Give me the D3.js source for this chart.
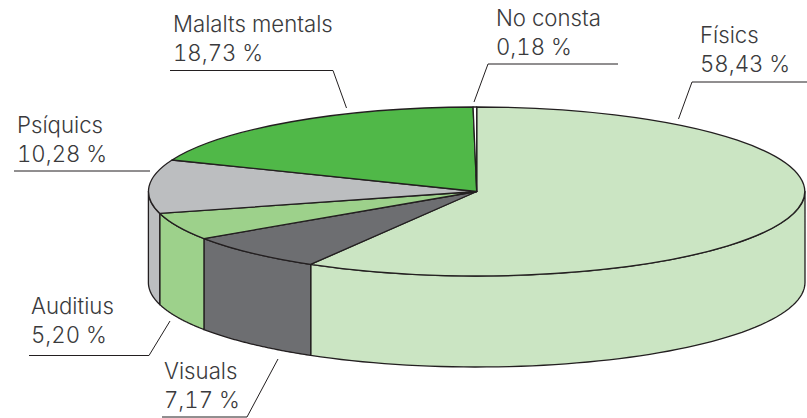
<!DOCTYPE html>
<html><head><meta charset="utf-8">
<script src="https://cdn.jsdelivr.net/npm/d3@7/dist/d3.min.js"></script>
<style>html,body{margin:0;padding:0;background:#fff}svg{display:block}
text{font-family:Inter,"Liberation Sans",sans-serif;font-weight:300;font-size:22.2px;fill:#3a3a3c;font-feature-settings:"tnum" 1;word-spacing:0}</style>
</head><body><svg id="c" width="807" height="418"></svg>
<script>
const categories = ["Físics","Visuals","Auditius","Psíquics","Malalts mentals","No consta"];
const values = [58.43,7.17,5.20,10.28,18.73,0.18];
const valueLabels = ["58,43 %","7,17 %","5,20 %","10,28 %","18,73 %","0,18 %"];
const colors = ["#cbe5c3","#6d6e71","#9dd18b","#bcbec0","#50b848","#ffffff"];
const labelAnchors = [[700,43],[164,379],[31,314],[17,133],[173,32],[496,26]];
const leaderLines = [
 [[807,82],[692,82],[678.5,119]],
 [[162,417],[247,417],[278,359]],
 [[29,355.5],[149,355.5],[170,321]],
 [[14,171],[150,171]],
 [[170,70.5],[333,70.5],[346.5,108]],
 [[618,64],[488,64],[474,102]]
];
const cx=476.7, cy=191.5, rx=328.3, ry=84.5, depth=91, ink="#231f20";

const svg=d3.select("#c");
const arcs=d3.pie().sort(null).value(d=>d)(values);
const px=a=>cx+rx*Math.sin(a), py=a=>cy-ry*Math.cos(a);

// side wall: visible where the rim faces the viewer (90° to 270° clockwise from top)
const lo=Math.PI/2, hi=3*Math.PI/2;
arcs.forEach((d,i)=>{
  const a0=Math.max(d.startAngle,lo), a1=Math.min(d.endAngle,hi);
  if(a1<=a0) return;
  const steps=60, outline=[];
  for(let k=0;k<=steps;k++){const a=a0+(a1-a0)*k/steps;outline.push([px(a),py(a)]);}
  for(let k=steps;k>=0;k--){const a=a0+(a1-a0)*k/steps;outline.push([px(a),py(a)+depth]);}
  svg.append("path").attr("d",d3.line()(outline)+"Z")
    .attr("fill",colors[i]).attr("stroke",ink).attr("stroke-width",1.3).attr("stroke-linejoin","round");
});

// top face
const arc=d3.arc().innerRadius(0).outerRadius(1);
const face=svg.append("g").attr("transform",`translate(${cx},${cy}) scale(${rx},${ry})`);
face.selectAll("path").data(arcs).join("path")
  .attr("d",arc).attr("fill",(d,i)=>colors[i])
  .attr("stroke",ink).attr("stroke-width",1.3).attr("stroke-linejoin","round")
  .attr("vector-effect","non-scaling-stroke");

// leaders
svg.selectAll("path.leader").data(leaderLines).join("path").attr("class","leader")
  .attr("d",d3.line()).attr("fill","none").attr("stroke",ink).attr("stroke-width",1);

// labels
categories.forEach((c,i)=>{
  const [x,y]=labelAnchors[i];
  svg.append("text").attr("x",x).attr("y",y).text(c);
  svg.append("text").attr("x",x).attr("y",y+29).text(valueLabels[i]);
});
</script></body></html>
